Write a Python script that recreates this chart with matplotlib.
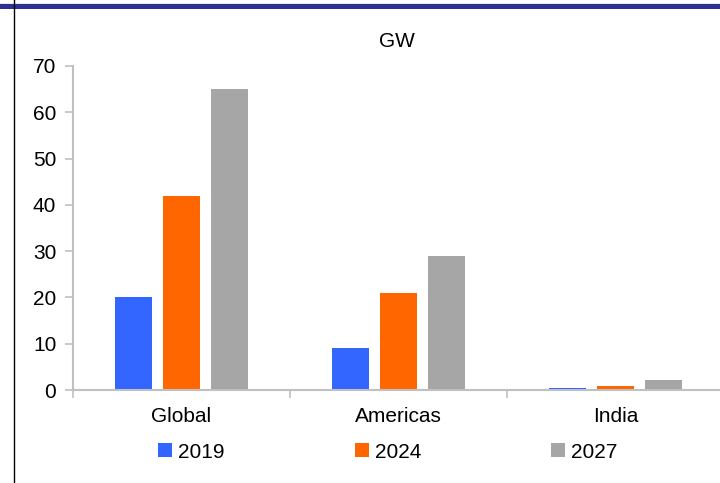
import numpy as np
import matplotlib.pyplot as plt
from matplotlib.lines import Line2D

plt.rcParams['font.family'] = ['Liberation Sans', 'DejaVu Sans']

categories = ["Global", "Americas", "India"]
years = ["2019", "2024", "2027"]
values2019 = [20, 9, 0.4]
values2024 = [42, 21, 0.9]
values2027 = [65, 29, 2.2]

colors = ['#3366ff', '#ff6600', '#a6a6a6']
gridGrey = '#c0c0c0'

fig = plt.figure(figsize=(7.2, 4.83), dpi=100)
ax = fig.add_axes([73/720, 1-390/483, 647/720, (390-66)/483])

x = np.arange(len(categories))
width = 0.17
step = 0.222
for i, (vals, col) in enumerate(zip([values2019, values2024, values2027], colors)):
  ax.bar(x + (i-1)*step, vals, width, color=col, label=years[i], zorder=2)

ax.set_ylim(0, 70)
ax.set_yticks(range(0, 71, 10))
ax.set_xlim(-0.5, -0.5 + 647/217)
ax.set_xticks([-0.5, 0.5, 1.5])
ax.set_xticklabels([])
ax.xaxis.set_minor_locator(plt.FixedLocator(x))
ax.set_xticklabels(categories, minor=True)
ax.tick_params(axis='x', which='minor', length=0, pad=12, labelsize=15)
ax.tick_params(axis='x', which='major', length=6, color=gridGrey, width=1.2)
ax.tick_params(axis='y', length=6, color=gridGrey, width=1.2, labelsize=15, pad=6)

for side in ['top', 'right']:
  ax.spines[side].set_visible(False)
for side in ['left', 'bottom']:
  ax.spines[side].set_color(gridGrey)
  ax.spines[side].set_linewidth(1.5)

ax.set_title("GW", fontsize=15, pad=14)

leg = fig.legend(loc='center', bbox_to_anchor=(388/720, 1-452/483), ncol=3, frameon=False,
                 fontsize=15, handlelength=0.65, handleheight=0.65, handletextpad=0.3,
                 columnspacing=6.25)

# decorations from the page the chart was cut out of
fig.add_artist(Line2D([0, 1], [1-3.5/483, 1-3.5/483], color='#9090c8', lw=1, transform=fig.transFigure))
fig.add_artist(Line2D([0, 1], [1-6/483, 1-6/483], color='#2e3192', lw=3.6, transform=fig.transFigure))
fig.add_artist(Line2D([14/720, 14/720], [0, 1], color='black', lw=1, transform=fig.transFigure))

fig.savefig("out.png", dpi=100)
